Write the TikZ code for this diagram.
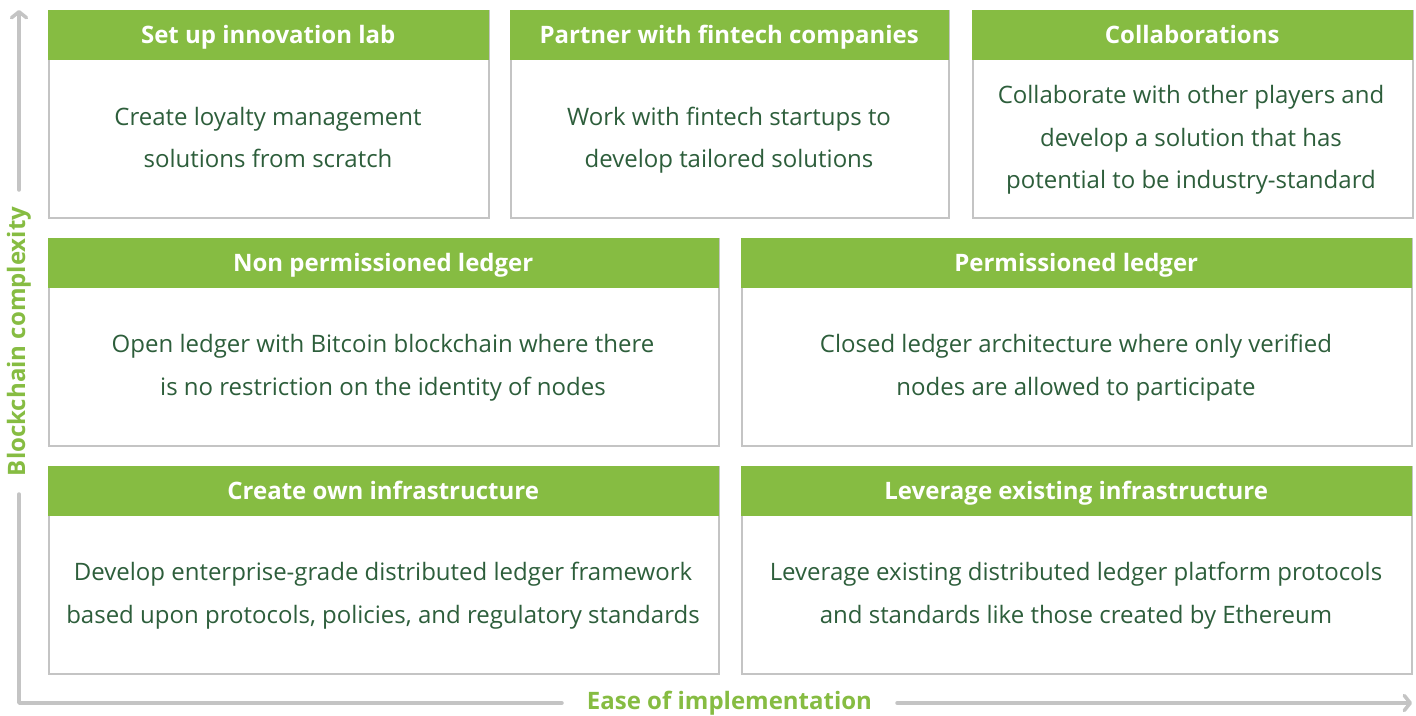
\documentclass[tikz,border=0pt]{standalone}
\usepackage{fontspec}
\setmainfont{Open Sans}
\usetikzlibrary{arrows.meta}
\definecolor{hgreen}{HTML}{86BC42}
\definecolor{tgreen}{HTML}{2D5E3B}
\definecolor{lgray}{HTML}{C4C4C4}
\tikzset{
  boxframe/.style={draw=lgray, line width=2pt, fill=white, rectangle, inner sep=0pt, anchor=north west},
  hdr/.style={fill=hgreen, rectangle, inner sep=0pt, anchor=north west, minimum height=50pt, text height=17pt, text depth=0pt, text=white, font=\fontsize{24}{28}\selectfont\bfseries},
  body/.style={text=tgreen, align=center, font=\fontsize{24}{42.5}\selectfont, inner sep=0pt},
  axis/.style={draw=lgray, line width=3.5pt, line cap=round, line join=round},
  axtip/.style={-{Straight Barb[length=6pt, width=15pt, round]}},
  axlabel/.style={text=hgreen, font=\fontsize{24}{28}\selectfont\bfseries, inner sep=0pt}
}
\begin{document}
\begin{tikzpicture}[x=1pt, y=-1pt]
\useasboundingbox (0,0) rectangle (1416,715);
% axes
\coordinate (vtop) at (19,10);
\coordinate (vmid1) at (19,190);
\coordinate (vmid2) at (19,494);
\coordinate (corner) at (19,703);
\coordinate (hmid1) at (562,703);
\coordinate (hmid2) at (897,703);
\coordinate (hend) at (1412,703);
\draw[axis, axtip] (vmid1) -- (vtop);
\draw[axis] (vmid2) -- (corner) -- (hmid1);
\draw[axis, axtip] (hmid2) -- (hend);
\node[axlabel, rotate=90] (ylab) at (19,341.5) {Blockchain complexity};
\node[axlabel] (xlab) at (729.5,703) {Ease of implementation};
% row 1
\node[boxframe, minimum width=440pt, minimum height=207pt] (b1) at (48,10) {};
\node[hdr, minimum width=441pt] (h1) at (47.5,9.5) {Set up innovation lab};
\node[body] (t1) at (268,138) {\strut Create loyalty management\\solutions from scratch\strut};
\node[boxframe, minimum width=438pt, minimum height=207pt] (b2) at (510,10) {};
\node[hdr, minimum width=439pt] (h2) at (509.5,9.5) {Partner with fintech companies};
\node[body] (t2) at (729,138) {\strut Work with fintech startups to\\develop tailored solutions\strut};
\node[boxframe, minimum width=440pt, minimum height=207pt] (b3) at (972,10) {};
\node[hdr, minimum width=441pt] (h3) at (971.5,9.5) {Collaborations};
\node[body] (t3) at (1191,137.5) {\strut Collaborate with other players and\\develop a solution that has\\potential to be industry-standard\strut};
% row 2
\node[boxframe, minimum width=670pt, minimum height=207pt] (b4) at (48,238) {};
\node[hdr, minimum width=671pt] (h4) at (47.5,237.5) {Non permissioned ledger};
\node[body] (t4) at (383,365.5) {\strut Open ledger with Bitcoin blockchain where there\\is no restriction on the identity of nodes\strut};
\node[boxframe, minimum width=670pt, minimum height=207pt] (b5) at (741,238) {};
\node[hdr, minimum width=671pt] (h5) at (740.5,237.5) {Permissioned ledger};
\node[body] (t5) at (1076,365.5) {\strut Closed ledger architecture where only verified\\nodes are allowed to participate\strut};
% row 3
\node[boxframe, minimum width=670pt, minimum height=207pt] (b6) at (48,466) {};
\node[hdr, minimum width=671pt] (h6) at (47.5,465.5) {Create own infrastructure};
\node[body] (t6) at (383,593.5) {\strut Develop enterprise-grade distributed ledger framework\\based upon protocols, policies, and regulatory standards\strut};
\node[boxframe, minimum width=670pt, minimum height=207pt] (b7) at (741,466) {};
\node[hdr, minimum width=671pt] (h7) at (740.5,465.5) {Leverage existing infrastructure};
\node[body] (t7) at (1076,593.5) {\strut Leverage existing distributed ledger platform protocols\\and standards like those created by Ethereum\strut};
\end{tikzpicture}
\end{document}
